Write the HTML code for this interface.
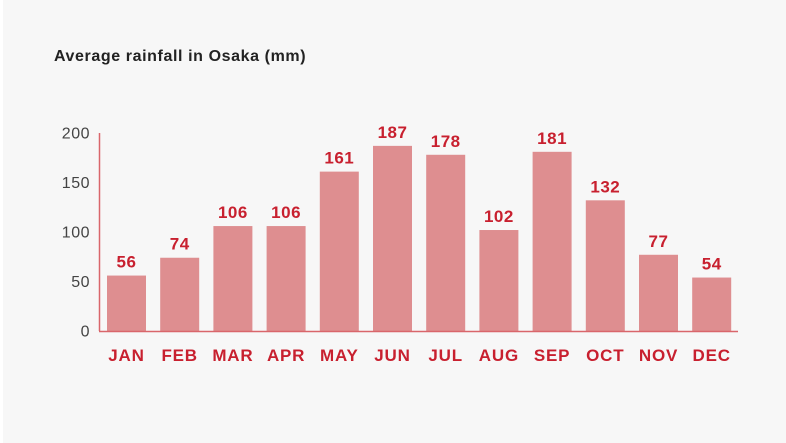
<!DOCTYPE html>
<html><head><meta charset="utf-8"><style>
html,body{margin:0;padding:0;width:786px;height:443px;overflow:hidden;background:#f7f7f7;font-family:"Liberation Sans",sans-serif}
</style></head><body>
<svg width="786" height="443" xmlns="http://www.w3.org/2000/svg">
<rect x="0" y="0" width="3" height="443" fill="#fff"/>
<text x="54" y="61" font-size="16" font-weight="bold" letter-spacing="0.6" fill="#222">Average rainfall in Osaka (mm)</text>
<g id="chart"></g>
</svg>
<script>
const months=["JAN","FEB","MAR","APR","MAY","JUN","JUL","AUG","SEP","OCT","NOV","DEC"];
const rainfall=[56,74,106,106,161,187,178,102,181,132,77,54];
const yTicks=[0,50,100,150,200];
const NS="http://www.w3.org/2000/svg";
const g=document.getElementById('chart');
const y0=331,yScale=0.99,x0=126.5,pitch=53.2,bw=39;
const y=v=>y0-v*yScale, x=i=>x0+i*pitch;
function mk(t,a){const e=document.createElementNS(NS,t);for(const k in a)e.setAttribute(k,a[k]);g.appendChild(e);return e;}
yTicks.forEach(t=>{
  const e=mk('text',{x:90,y:y(t)+5.5,'font-size':16,'letter-spacing':0.5,fill:'#444','text-anchor':'end'});
  e.textContent=t;
  
  
});
rainfall.forEach((v,i)=>{
  const r=mk('rect',{x:x(i)-bw/2,y:y(v),width:bw,height:v*yScale,fill:'#de8e90'});
  
  
  const l=mk('text',{x:x(i),y:y(v)-8,'font-size':17,'font-weight':'bold','letter-spacing':0.5,fill:'#c8202f','text-anchor':'middle'});
  l.textContent=v;
  
  
  const m=mk('text',{x:x(i),y:361,'font-size':17,'font-weight':'bold','letter-spacing':0.8,fill:'#c8202f','text-anchor':'middle'});
  m.textContent=months[i];
  
  
});
const ya=mk('line',{x1:99.5,y1:133,x2:99.5,y2:y0,stroke:'#d9666b','stroke-width':1.5});


const xa=mk('line',{x1:99,y1:y0+0.5,x2:738,y2:y0+0.5,stroke:'#d9666b','stroke-width':1.5});


</script>
</body></html>
